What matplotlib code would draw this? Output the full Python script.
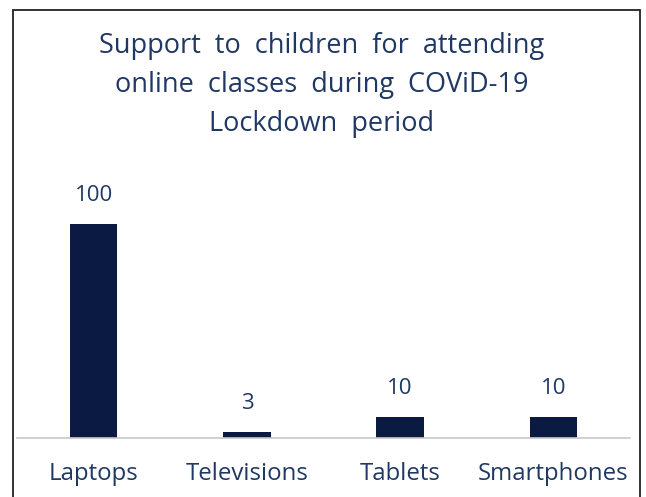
import matplotlib
matplotlib.use("Agg")
import matplotlib.pyplot as plt
from matplotlib.patches import Rectangle

categories = ["Laptops", "Televisions", "Tablets", "Smartphones"]
values = [100, 3, 10, 10]
title_text = "Support  to  children  for  attending\nonline  classes  during  COViD-19\nLockdown  period"

W, H = 646, 497
fig = plt.figure(figsize=(W / 100, H / 100), dpi=100)
fig.patch.set_facecolor("white")

text_color = "#1F3864"
bar_color = "#0B1A42"
font = "Open Sans"

ax = fig.add_axes([17 / W, (H - 438) / H, 613 / W, 257 / H])
x = range(len(categories))
bars = ax.bar(x, values, width=0.31, color=bar_color)
ax.set_xlim(-0.5, len(categories) - 0.5)
ax.set_ylim(0, 120)
for b, v in zip(bars, values):
    ax.annotate(str(v), (b.get_x() + b.get_width() / 2, v), xytext=(0, 20.5),
                textcoords="offset points", ha="center", va="center",
                color=text_color, fontsize=16, family=font)
ax.set_xticks(list(x))
ax.set_xticklabels(categories, color=text_color, fontsize=17.3, family=font)
ax.tick_params(axis="x", length=0, pad=17)
ax.set_yticks([])
for s in ["top", "right", "left"]:
    ax.spines[s].set_visible(False)
ax.spines["bottom"].set_color("#C8C8C8")
ax.spines["bottom"].set_linewidth(1.2)

fig.text(322 / W, 1 - 85 / H, title_text, ha="center", va="center", color=text_color,
         fontsize=19.5, family=font, linespacing=1.5)

fig.add_artist(Rectangle((12.5 / W, -0.05), (640 - 12.5) / W, (1.05 - 9.5 / H),
                         transform=fig.transFigure, fill=False, edgecolor="#222222",
                         linewidth=1.3))

fig.savefig("out.png", dpi=100)
